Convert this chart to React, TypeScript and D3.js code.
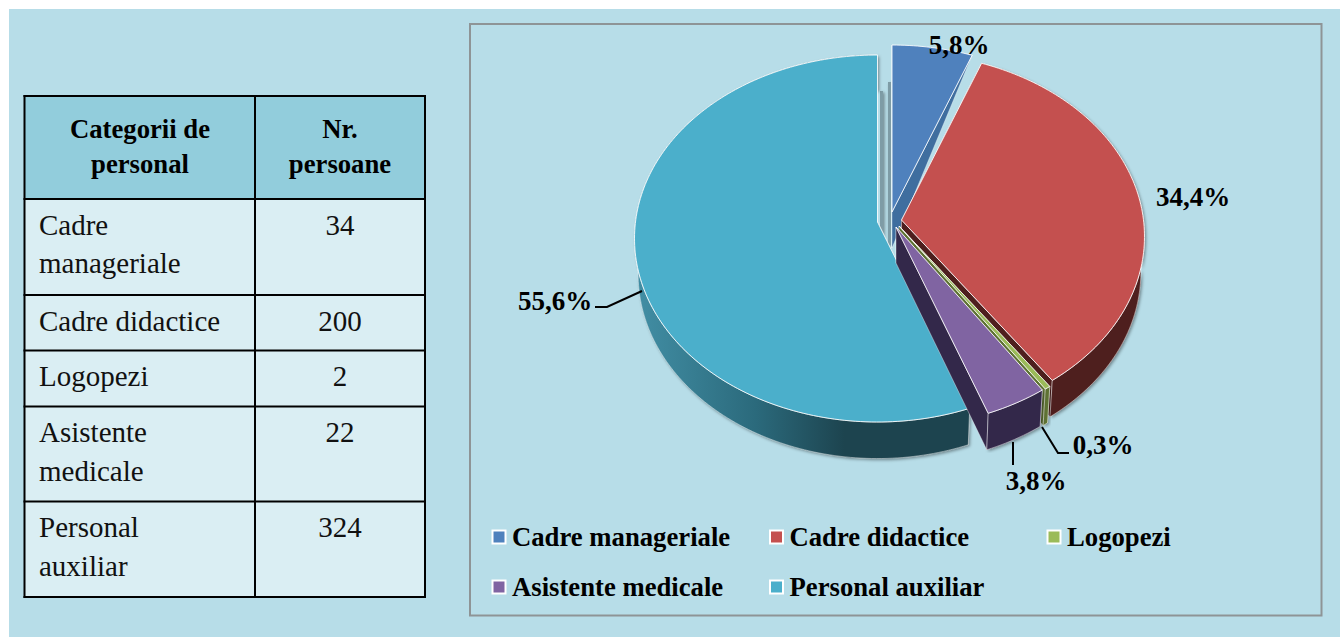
import React from 'react';
import * as d3 from 'd3';

const categories = ['Cadre manageriale', 'Cadre didactice', 'Logopezi', 'Asistente medicale', 'Personal auxiliar'];
const persons = [34, 200, 2, 22, 324];
const percentLabels = ['5,8%', '34,4%', '0,3%', '3,8%', '55,6%'];
const tableHeader = [['Categorii de', 'personal'], ['Nr.', 'persoane']];
const tableCategoryLines = [['Cadre', 'manageriale'], ['Cadre didactice'], ['Logopezi'], ['Asistente', 'medicale'], ['Personal', 'auxiliar']];

const topColors = ['#4F81BD', '#C4504F', '#9BBB59', '#8064A2', '#4BAFCB'];
const sideColors = ['#3F6E9F', '#4E1F1E', '#5E7233', '#33284A', 'url(#tealSide)'];

// where each exploded slice has its tip on screen
const sliceTips: [number, number][] = [[892, 212], [901.5, 220], [899, 226], [896, 227], [877.5, 222]];
const paintOrder = [0, 1, 4, 2, 3];

const W = 1340;
const H = 637;
const RX = 242;
const RY = 182;
const PERSPECTIVE = 0.09;
const DEPTH = 36;
const BOTTOM_SHRINK = 0.985;

const font = '"Liberation Serif", "Times New Roman", serif';

type Pt = [number, number];

const rimPoint = (tip: Pt, angle: number, z: number): Pt => {
  const u = Math.sin(angle);
  const v = Math.cos(angle);
  const den = 1 + PERSPECTIVE * v;
  const s = z ? BOTTOM_SHRINK : 1;
  return [tip[0] + (RX * s * u) / den, tip[1] - (RY * s * v) / den + (z * DEPTH) / den];
};

const tipPoint = (tip: Pt, z: number): Pt => [tip[0], tip[1] + z * DEPTH];

const rim = (tip: Pt, a0: number, a1: number, z: number): Pt[] => {
  const n = Math.max(2, Math.ceil((a1 - a0) / 0.02));
  return d3.range(n + 1).map(i => rimPoint(tip, a0 + ((a1 - a0) * i) / n, z));
};

const poly = d3.line<Pt>().curve(d3.curveLinearClosed);

const pieAngles = d3.pie<number>().sort(null).value(d => d)(persons);

// table layout
const tableX = d3.scaleOrdinal<number, number>().domain([0, 1, 2]).range([24.5, 255, 425]);
const tableRowY = [96, 199, 295, 350.5, 406.5, 501.5, 597];
const tableLine = 38.5;

// legend layout
const legendX = d3.scalePoint<number>().domain([0, 1, 2]).range([492, 1047]);
const legendY = d3.scalePoint<number>().domain([0, 1]).range([538, 588]);

const pctPlacement: { x: number; y: number; anchor: string }[] = [
  { x: 959, y: 54, anchor: 'middle' },
  { x: 1193, y: 206, anchor: 'middle' },
  { x: 1103, y: 454, anchor: 'middle' },
  { x: 1036, y: 490, anchor: 'middle' },
  { x: 555, y: 310, anchor: 'middle' },
];

const leaders: Pt[][] = [
  [[595, 307], [607, 307], [642, 291]],
  [[1042, 427], [1058, 453], [1069, 453]],
  [[1013, 442], [1013, 465]],
];

const App = () => {
  const openLine = d3.line<Pt>();
  return (
    <svg width={W} height={H} style={{ position: 'absolute', left: 0, top: 0, display: 'block' }} fontFamily={font}>
      <defs>
        <linearGradient id="tealSide" gradientUnits="userSpaceOnUse" x1={640} y1={0} x2={970} y2={0}>
          <stop offset="0" stopColor="#418DA3" />
          <stop offset="0.35" stopColor="#2B6A7C" />
          <stop offset="0.62" stopColor="#1D444F" />
          <stop offset="1" stopColor="#1D444F" />
        </linearGradient>
        <filter id="pieShadow" x="-5%" y="-5%" width="110%" height="110%">
          <feDropShadow dx="1.5" dy="1.5" stdDeviation="1.5" floodColor="#000" floodOpacity="0.4" />
        </filter>
      </defs>

      <rect x={0} y={0} width={W} height={H} fill="#fff" />
      <rect x={9} y={9} width={W - 9} height={H - 9} fill="#B7DDE8" />

      {/* table */}
      <rect x={24.5} y={96} width={400.5} height={103} fill="#92CDDC" />
      <rect x={24.5} y={199} width={400.5} height={398} fill="#DAEEF3" />
      {tableRowY.map(y => (
        <line key={y} x1={23.5} x2={426} y1={y} y2={y} stroke="#000" strokeWidth={2} />
      ))}
      {[0, 1, 2].map(i => (
        <line key={i} x1={tableX(i)} x2={tableX(i)} y1={95} y2={598} stroke="#000" strokeWidth={2} />
      ))}
      {tableHeader.map((lines, c) =>
        lines.map((t, i) => (
          <text key={t} x={c === 0 ? 140 : 340} y={138 + i * 35} textAnchor="middle" fontWeight="bold" fontSize={26.7} fill="#000">
            {t}
          </text>
        ))
      )}
      {tableCategoryLines.map((lines, r) => (
        <g key={r} fontSize={29} fill="#111">
          {lines.map((t, i) => (
            <text key={t} x={39} y={tableRowY[r + 1] + 35.5 + i * tableLine}>
              {t}
            </text>
          ))}
          <text x={340} y={tableRowY[r + 1] + 35.5} textAnchor="middle">
            {persons[r]}
          </text>
        </g>
      ))}

      {/* chart frame */}
      <rect x={470} y={24} width={851.5} height={591.5} fill="#B7DDE8" stroke="#8E9496" strokeWidth={2} />

      {/* pie */}
      <g filter="url(#pieShadow)">
        <line x1={881} x2={881} y1={91} y2={240} stroke="#7E9CA6" strokeWidth={4} />
        <line x1={890} x2={890} y1={82} y2={245} stroke="#7E9CA6" strokeWidth={4} />
      </g>
      {paintOrder.map(i => {
        const slice = pieAngles[i];
        const tip = sliceTips[i];
        const a0 = slice.startAngle;
        const a1 = slice.endAngle;
        const topRim = rim(tip, a0, a1, 0);
        const bottomRim = rim(tip, a0, a1, 1);
        const outer = [...topRim, ...bottomRim.slice().reverse()];
        // a rim at the back of the pie shows no height, its cut tapers to nothing there
        const wall = (a: number): Pt[] =>
          Math.cos(a) > 0
            ? [tipPoint(tip, 0), rimPoint(tip, a, 0), tipPoint(tip, 1)]
            : [tipPoint(tip, 0), rimPoint(tip, a, 0), rimPoint(tip, a, 1), tipPoint(tip, 1)];
        const backOnly = a1 < Math.PI / 2;
        return (
          <g key={categories[i]}>
            {!backOnly && (
              <g filter="url(#pieShadow)">
                <path d={poly(outer) || ''} fill={sideColors[i]} />
              </g>
            )}
            <path d={poly(wall(a0)) || ''} fill={sideColors[i]} stroke="#fff" strokeOpacity={0.45} strokeWidth={0.8} />
            <path d={poly(wall(a1)) || ''} fill={sideColors[i]} stroke="#fff" strokeOpacity={0.45} strokeWidth={0.8} />
            {!backOnly && <path d={poly(outer) || ''} fill={sideColors[i]} stroke="#fff" strokeOpacity={0.6} strokeWidth={0.8} />}
            <path d={poly([tip, ...topRim]) || ''} fill={topColors[i]} stroke="#fff" strokeOpacity={0.85} strokeWidth={1} />
          </g>
        );
      })}

      {/* percent labels */}
      {leaders.map((pts, i) => (
        <path key={i} d={openLine(pts) || ''} fill="none" stroke="#000" strokeWidth={2} />
      ))}
      {percentLabels.map((t, i) => (
        <text key={t} x={pctPlacement[i].x} y={pctPlacement[i].y} textAnchor={pctPlacement[i].anchor} fontWeight="bold" fontSize={27} fill="#000">
          {t}
        </text>
      ))}

      {/* legend */}
      {categories.map((c, i) => {
        const x = legendX(i % 3) as number;
        const y = legendY(Math.floor(i / 3)) as number;
        return (
          <g key={c}>
            <rect x={x + 0.5} y={y - 7.5} width={13} height={13} fill={topColors[i]} stroke="#fff" strokeWidth={2} />
            <text x={x + 20} y={y + 8} fontWeight="bold" fontSize={26.7} fill="#000">
              {c}
            </text>
          </g>
        );
      })}
    </svg>
  );
};

export default App;
